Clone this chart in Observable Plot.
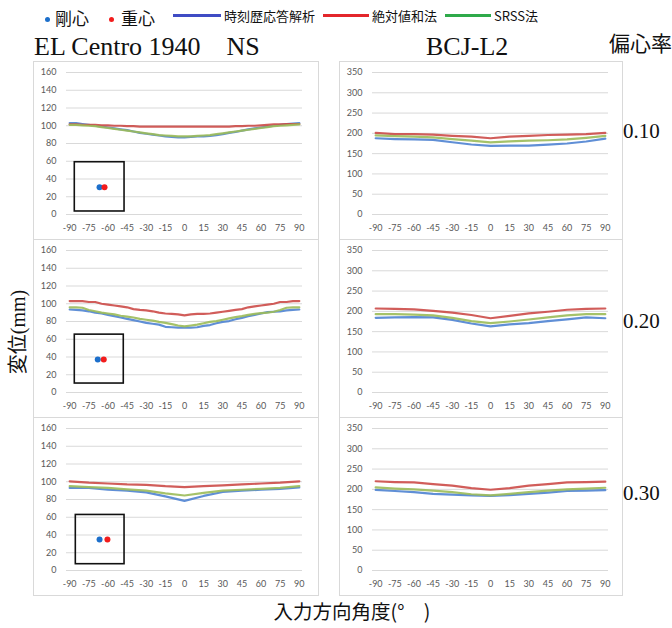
<!DOCTYPE html>
<html><head><meta charset="utf-8">
<script src="https://cdn.jsdelivr.net/npm/d3@7"></script>
<script src="https://cdn.jsdelivr.net/npm/@observablehq/plot@0.6"></script>
<style>
body{margin:0;background:#fff;}
#root{position:relative;width:672px;height:628px;overflow:hidden;background:#fff;}
.panel{position:absolute;border:1px solid #d9d9d9;}
.panel svg{display:block;}
.t{position:absolute;white-space:nowrap;line-height:1;color:#111;}
.cjk{font-family:"Noto Sans CJK JP","Noto Sans",sans-serif;}
.serif{font-family:"Liberation Serif","Noto Sans CJK JP",serif;}
.lg{position:absolute;height:3px;}
.dotk{position:absolute;width:5px;height:5px;border-radius:50%;}
</style></head><body><div id="root"></div>
<script>
// ---- data ----
const xTickLabels = [-90,-75,-60,-45,-30,-15,0,15,30,45,60,75,90];
const yTicksElc = [0,20,40,60,80,100,120,140,160];
const yTicksBcj = [0,50,100,150,200,250,300,350];
const angles5 = [-90,-85,-80,-75,-70,-65,-60,-55,-50,-45,-40,-35,-30,-25,-20,-15,-10,-5,0,5,10,15,20,25,30,35,40,45,50,55,60,65,70,75,80,85,90];
const angles15 = [-90,-75,-60,-45,-30,-15,0,15,30,45,60,75,90];
const seriesNames = ["時刻歴応答解析","絶対値和法","SRSS法"];
const eccentricities = ["0.10","0.20","0.30"];
const waveNames = ["EL Centro 1940\u3000NS","BCJ-L2"];

// EL Centro, e = 0.10
const elc10_th   = [103,103,102,101,100,99,98,97,96,95,93.5,92,91,90,89,88,87.5,87,87,87.5,88,88,88.5,89.5,90.5,92,93,94.5,96,97,98,99,100,101,102,102.5,103];
const elc10_abs  = [101.5,101.5,101,101,101,100.5,100.5,100,100,99.5,99.5,99,99,99,99,99,99,99,99,99,99,99,99,99,99,99,99.5,99.5,100,100,100.5,101,101.5,101.5,102,102,102];
const elc10_srss = [101,101,100.5,100,99.5,98.5,97.5,96.5,95.5,94.5,93.5,92.5,91.5,90.5,89.5,89,88.5,88,88,88,88.5,89,89.5,90.5,91.5,92.5,93.5,94.5,95.5,96.5,97.5,98.5,99.5,100,100.5,101,101.5];
// EL Centro, e = 0.20
const elc20_th   = [93.5,93,92.5,91.5,90,89,87.5,86,84.5,83,81.5,80,78.5,77.5,76.5,74,73.5,73,73,73,73.5,75,76,78,79.5,80.5,82.5,84,86,87.5,89,90.5,91,91.5,92.5,93,93.5];
const elc20_abs  = [103,103,103,102,102,100,99,98,97,96,94,93,92.5,91.5,90,89,88.5,88,87,88,88.5,88.5,89,90,91,92,93,94,96,97,98,99,100,102,102,103,103];
const elc20_srss = [96,96,95.5,93,91.5,90,89,88,86.5,85.5,84.5,83,82,81,79.5,78.5,77,75.5,74.5,75.5,76.5,78,79.5,80.5,82,83.5,85,86,87.5,88.5,89.5,90,91,93,95.5,96,96];
// EL Centro, e = 0.30
const elc30_th   = [93,93,91,90,88,83.5,78.5,84,88.5,90,91,92,93.5];
const elc30_abs  = [100.5,99,98,97,96.5,95,94,95,96,97,98,99,100.5];
const elc30_srss = [95,94,93,91.5,90,87,84.5,87.5,90,91,92,93,95];
// BCJ-L2, e = 0.10
const bcj10_th   = [188,186,185,184,178,172.5,169,170,170,172,175,180,187];
const bcj10_abs  = [201,198,198,197,194,192,188,192,194,196,197,198,201];
const bcj10_srss = [195,193,192,190,186,182,178,180,182,183,185,189,194];
// BCJ-L2, e = 0.20
const bcj20_th   = [184,185,186,185,179,170,163,168,171,176,180,185,183];
const bcj20_abs  = [207,206,205,201,197,191,183,189,195,199,204,206,207];
const bcj20_srss = [193,193,192,190,184,176,171,175,180,185,190,193,193];
// BCJ-L2, e = 0.30
const bcj30_th   = [198.5,196,193,189,187,185,184,186,189,192,196,197,198];
const bcj30_abs  = [220,218,217,213,209,203,199,203,209,213,217,218,219];
const bcj30_srss = [205,202,200,197,193,188,185,189,193,197,200,202,204];

// inset diagrams (data units): box [x1,x2,y1,y2], rigidity centre [x,y], mass centre [x,y]
const inset10_box = [-86,-47,3.4,58.9];   const inset10_rigid = [-66.6,30.8]; const inset10_mass = [-62.7,30.8];
const inset20_box = [-86,-47.6,10.1,65.2]; const inset20_rigid = [-68,37.1];  const inset20_mass = [-63.3,37.1];
const inset30_box = [-85.2,-47,7.1,62.6]; const inset30_rigid = [-66.6,34.9]; const inset30_mass = [-60.4,34.9];

// ---- styles ----
const lineColors = ["#4f83d1","#cc4b48","#9bbb59"];
const legendColors = ["#3f4cc4","#e3262b","#2eaa4a"];

const root = document.getElementById("root");
function addText(html, cls, css){ const d=document.createElement("div"); d.className="t "+cls; d.innerHTML=html; Object.assign(d.style,css); root.appendChild(d); return d; }

function table(angles, arrs){
  const rows=[];
  arrs.forEach((a,si)=>a.forEach((v,i)=>rows.push({angle:angles[i], value:v, s:seriesNames[si]})));
  return rows;
}

function panel(opts){
  const {left, top, w, mr, yMax, yTicks, angles, arrs, box, rigid, mass} = opts;
  const rows = table(angles, arrs);
  const marks = [
    Plot.gridY(yTicks, {stroke:"#d9d9d9", strokeOpacity:1, strokeWidth:1})
  ];
  seriesNames.forEach((s,i)=>{
    marks.push(Plot.line(rows.filter(r=>r.s===s), {x:"angle", y:"value", stroke:lineColors[i], strokeWidth:2.2, strokeOpacity:0.9}));
  });
  if (box){
    marks.push(Plot.rect([box], {x1:d=>d[0], x2:d=>d[1], y1:d=>d[2], y2:d=>d[3], fill:"none", stroke:"#111", strokeWidth:1.6}));
    marks.push(Plot.dot([rigid], {x:d=>d[0], y:d=>d[1], r:3, fill:"#1c6fcb", stroke:"none"}));
    marks.push(Plot.dot([mass], {x:d=>d[0], y:d=>d[1], r:3, fill:"#f21c1c", stroke:"none"}));
  }
  const svg = Plot.plot({
    width:w, height:177, marginLeft:32, marginRight:mr, marginTop:10, marginBottom:25,
    x:{domain:[-92.5,92.5], ticks:xTickLabels, tickSize:0, tickPadding:10, label:null, tickFormat:d=>String(d)},
    y:{domain:[0,yMax], ticks:yTicks, tickSize:0, tickPadding:10, label:null, tickFormat:d=>String(d)},
    style:{fontFamily:"Lato, 'Open Sans', sans-serif", fontSize:"9px", color:"#595959", background:"white", overflow:"visible"},
    marks
  });
  const div = document.createElement("div");
  div.className="panel";
  Object.assign(div.style,{left:left+"px", top:top+"px", width:w+"px", height:"177px"});
  div.appendChild(svg);
  root.appendChild(div);
}

const rowTops=[61,239,417];
panel({left:33, top:rowTops[0], w:284, mr:16, yMax:160, yTicks:yTicksElc, angles:angles5, arrs:[elc10_th,elc10_abs,elc10_srss], box:inset10_box, rigid:inset10_rigid, mass:inset10_mass});
panel({left:33, top:rowTops[1], w:284, mr:16, yMax:160, yTicks:yTicksElc, angles:angles5, arrs:[elc20_th,elc20_abs,elc20_srss], box:inset20_box, rigid:inset20_rigid, mass:inset20_mass});
panel({left:33, top:rowTops[2], w:284, mr:16, yMax:160, yTicks:yTicksElc, angles:angles15, arrs:[elc30_th,elc30_abs,elc30_srss], box:inset30_box, rigid:inset30_rigid, mass:inset30_mass});
panel({left:339, top:rowTops[0], w:282, mr:14, yMax:350, yTicks:yTicksBcj, angles:angles15, arrs:[bcj10_th,bcj10_abs,bcj10_srss]});
panel({left:339, top:rowTops[1], w:282, mr:14, yMax:350, yTicks:yTicksBcj, angles:angles15, arrs:[bcj20_th,bcj20_abs,bcj20_srss]});
panel({left:339, top:rowTops[2], w:282, mr:14, yMax:350, yTicks:yTicksBcj, angles:angles15, arrs:[bcj30_th,bcj30_abs,bcj30_srss]});

// ---- legend ----
function dotKey(x,y,c){ const d=document.createElement("div"); d.className="dotk"; Object.assign(d.style,{left:x+"px",top:y+"px",background:c}); root.appendChild(d); }
function lineKey(x1,x2,y,c){ const d=document.createElement("div"); d.className="lg"; Object.assign(d.style,{left:x1+"px",top:y+"px",width:(x2-x1)+"px",background:c}); root.appendChild(d); }
dotKey(45,17,"#1c6fcb");
addText("剛心","cjk",{left:"55px",top:"9px",fontSize:"17px"});
dotKey(109,17,"#f21c1c");
addText("重心","cjk",{left:"121px",top:"9px",fontSize:"17px"});
lineKey(173,221,14,legendColors[0]);
addText(seriesNames[0],"cjk",{left:"224px",top:"9px",fontSize:"13px"});
lineKey(323,369,14,legendColors[1]);
addText(seriesNames[1],"cjk",{left:"372px",top:"9px",fontSize:"13px"});
lineKey(445,491,14,legendColors[2]);
addText(seriesNames[2],"cjk",{left:"494px",top:"9px",fontSize:"13px"});

// ---- titles ----
addText(waveNames[0],"serif",{left:"34px",top:"34px",fontSize:"26px"});
addText(waveNames[1],"serif",{left:"426px",top:"34px",fontSize:"26px"});
addText("偏心率","cjk",{left:"609px",top:"32px",fontSize:"21px"});
addText(eccentricities[0],"serif",{left:"623px",top:"121px",fontSize:"21px"});
addText(eccentricities[1],"serif",{left:"623px",top:"311px",fontSize:"21px"});
addText(eccentricities[2],"serif",{left:"623px",top:"483px",fontSize:"21px"});

const yl = addText("変位(mm)","serif",{left:"18px",top:"332px",fontSize:"20px"});
yl.style.transform="translate(-50%,-50%) rotate(-90deg)";
const xl = addText("入力方向角度(°\u3000)","cjk",{left:"352px",top:"611px",fontSize:"19.5px"});
xl.style.transform="translate(-50%,-50%)";
</script></body></html>
